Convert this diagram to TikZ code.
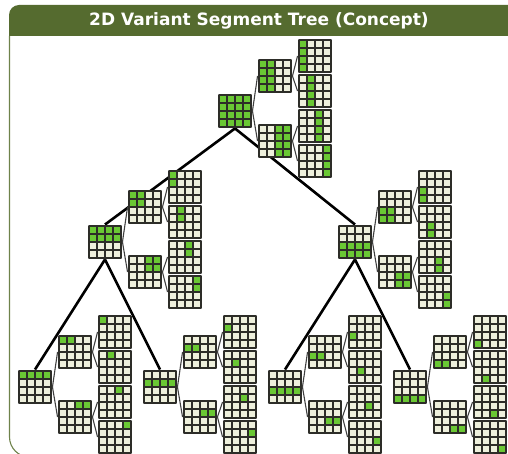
\documentclass[tikz,border=0pt]{standalone}
\usepackage{fontspec}
\setsansfont{DejaVu Sans}
\usetikzlibrary{backgrounds}

\definecolor{olivebar}{RGB}{85,107,47}
\definecolor{oliveline}{RGB}{110,130,75}
\definecolor{cellcream}{RGB}{238,240,220}
\definecolor{cellgreen}{RGB}{106,200,52}
\definecolor{celledge}{RGB}{45,45,40}

% one 4x4 grid: name, x, y, first row, last row, first col, last col (green block)
\newcommand{\gridnode}[7]{%
  \node[gridbox] (#1) at (#2,#3) {};
  \fill[cellcream] (#2-16,#3-16) rectangle (#2+16,#3+16);
  \fill[cellgreen] (#2-16+8*#6,#3-16+8*#4) rectangle (#2-8+8*#7,#3-8+8*#5);
  \foreach \k in {0,...,4} {
    \draw[cellline] (#2-16+8*\k,#3-16) -- ++(0,32);
    \draw[cellline] (#2-16,#3-16+8*\k) -- ++(32,0);
  }
}

% a row block with its column tree: name, x, y, first row, last row
\newcommand{\colsubtree}[5]{%
  \gridnode{#1}{#2}{#3}{#4}{#5}{0}{3}
  \gridnode{#1L}{#2+40}{#3-35}{#4}{#5}{0}{1}
  \gridnode{#1R}{#2+40}{#3+30}{#4}{#5}{2}{3}
  \gridnode{#1LL}{#2+80}{#3-55}{#4}{#5}{0}{0}
  \gridnode{#1LR}{#2+80}{#3-20}{#4}{#5}{1}{1}
  \gridnode{#1RL}{#2+80}{#3+15}{#4}{#5}{2}{2}
  \gridnode{#1RR}{#2+80}{#3+50}{#4}{#5}{3}{3}
  \draw[branch] (#1.east) -- (#1L.west);
  \draw[branch] (#1.east) -- (#1R.west);
  \draw[branch] (#1L.east) -- (#1LL.west);
  \draw[branch] (#1L.east) -- (#1LR.west);
  \draw[branch] (#1R.east) -- (#1RL.west);
  \draw[branch] (#1R.east) -- (#1RR.west);
}

\begin{document}
\begin{tikzpicture}[
    x=1pt, y=-1pt,
    gridbox/.style={rectangle, fill=black!45, inner sep=0, minimum size=34.5pt},
    cellline/.style={draw=celledge, line width=1.1pt},
    branch/.style={draw=black!75, line width=1.1pt},
    trunk/.style={draw=black, line width=2.6pt},
    title/.style={text=white, font=\sffamily\bfseries\fontsize{17}{20}\selectfont}
  ]
  \useasboundingbox (0,0) rectangle (508,454);
  \clip (0,0) rectangle (508,454);

  % frame and header bar
  \draw[oliveline, line width=1.1pt, rounded corners=20] (9.5,36) -- (9.5,457) -- (60,457);
  \fill[olivebar] (9,36) [rounded corners=10] -- (9,5) -- (530,5) [sharp corners] -- (530,36) -- cycle;
  \node[title] (heading) at (259,21) {2D Variant Segment Tree (Concept)};

  % row tree, each node carrying its column tree
  \colsubtree{root}{235}{111}{0}{3}
  \colsubtree{top}{105}{242}{0}{1}
  \colsubtree{bot}{355}{242}{2}{3}
  \colsubtree{rowA}{35}{387}{0}{0}
  \colsubtree{rowB}{160}{387}{1}{1}
  \colsubtree{rowC}{285}{387}{2}{2}
  \colsubtree{rowD}{410}{387}{3}{3}

  \begin{scope}[on background layer]
    \draw[trunk] (root.south) -- (top.north);
    \draw[trunk] (root.south) -- (bot.north);
    \draw[trunk] (top.south) -- (rowA.north);
    \draw[trunk] (top.south) -- (rowB.north);
    \draw[trunk] (bot.south) -- (rowC.north);
    \draw[trunk] (bot.south) -- (rowD.north);
  \end{scope}
\end{tikzpicture}
\end{document}
